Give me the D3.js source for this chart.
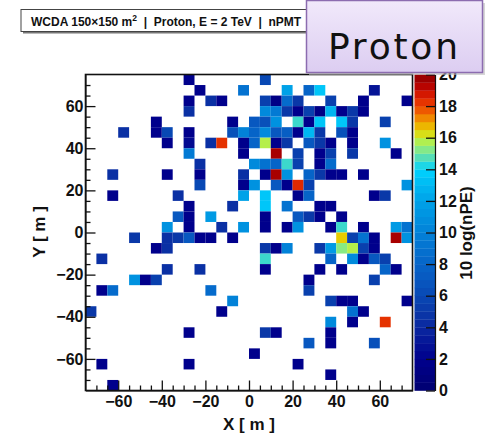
<!DOCTYPE html>
<html>
<head>
<meta charset="utf-8">
<script src="https://cdn.jsdelivr.net/npm/d3@7"></script>
<style>
  body { margin: 0; background: #fff; }
  svg { display: block; font-family: "Liberation Sans", Arial, sans-serif; }
</style>
</head>
<body>
<div class="graph-container"></div>
<script>
// detector cells hit: [x (m), y (m), 10 log(nPE)]
const hits = [
  // y = 72.5
  [-27.5, 72.5, 2], [7.5, 72.5, 6],
  // y = 67.5
  [-22.5, 67.5, 2], [-2.5, 67.5, 9], [17.5, 67.5, 12], [27.5, 67.5, 8], [32.5, 67.5, 13.5], [57.5, 67.5, 3],
  // y = 62.5
  [-27.5, 62.5, 2], [-17.5, 62.5, 4.5], [-12.5, 62.5, 2], [7.5, 62.5, 5.5], [12.5, 62.5, 1.5], [17.5, 62.5, 8.5],
  [22.5, 62.5, 5], [37.5, 62.5, 5.5], [52.5, 62.5, 2], [72.5, 62.5, 2],
  // y = 57.5
  [-27.5, 57.5, 4.5], [7.5, 57.5, 10.5], [12.5, 57.5, 9.5], [17.5, 57.5, 5], [22.5, 57.5, 2], [27.5, 57.5, 5.5],
  [32.5, 57.5, 1.5], [37.5, 57.5, 12.8], [42.5, 57.5, 2], [47.5, 57.5, 5], [52.5, 57.5, 2],
  // y = 52.5
  [-42.5, 52.5, 2], [-7.5, 52.5, 2], [2.5, 52.5, 7], [7.5, 52.5, 6.5], [12.5, 52.5, 11], [22.5, 52.5, 14.5],
  [27.5, 52.5, 2], [32.5, 52.5, 13.5], [42.5, 52.5, 13.5], [47.5, 52.5, 5], [62.5, 52.5, 5.5],
  // y = 47.5
  [-57.5, 47.5, 4.5], [-42.5, 47.5, 2], [-37.5, 47.5, 6], [-27.5, 47.5, 2], [-7.5, 47.5, 6.5], [-2.5, 47.5, 10],
  [2.5, 47.5, 8], [7.5, 47.5, 10.5], [12.5, 47.5, 7], [17.5, 47.5, 7.5], [22.5, 47.5, 2], [27.5, 47.5, 13],
  [32.5, 47.5, 5], [42.5, 47.5, 6.5], [47.5, 47.5, 2],
  // y = 42.5
  [-37.5, 42.5, 2], [-27.5, 42.5, 2.5], [-17.5, 42.5, 4.5], [-12.5, 42.5, 18.3], [-2.5, 42.5, 2], [2.5, 42.5, 8],
  [7.5, 42.5, 15.8], [12.5, 42.5, 2], [17.5, 42.5, 5], [27.5, 42.5, 7], [32.5, 42.5, 5], [37.5, 42.5, 2],
  [47.5, 42.5, 2], [62.5, 42.5, 11],
  // y = 37.5
  [-27.5, 37.5, 9.5], [-2.5, 37.5, 2], [12.5, 37.5, 19.5], [22.5, 37.5, 5.5], [32.5, 37.5, 2], [37.5, 37.5, 5.5],
  [47.5, 37.5, 5], [67.5, 37.5, 2],
  // y = 32.5
  [-22.5, 32.5, 4.5], [2.5, 32.5, 10.5], [7.5, 32.5, 9], [12.5, 32.5, 8], [17.5, 32.5, 14.5], [22.5, 32.5, 5.5],
  [32.5, 32.5, 2], [37.5, 32.5, 8.5],
  // y = 27.5
  [-62.5, 27.5, 4.5], [-37.5, 27.5, 2], [-22.5, 27.5, 2], [-2.5, 27.5, 4.5], [7.5, 27.5, 2], [12.5, 27.5, 19.5],
  [17.5, 27.5, 11], [27.5, 27.5, 8], [32.5, 27.5, 5], [37.5, 27.5, 2], [42.5, 27.5, 2], [52.5, 27.5, 2],
  // y = 22.5
  [-22.5, 22.5, 6], [-2.5, 22.5, 2], [2.5, 22.5, 11], [12.5, 22.5, 7], [17.5, 22.5, 2], [22.5, 22.5, 18.5],
  [27.5, 22.5, 5.5], [72.5, 22.5, 11],
  // y = 17.5
  [-62.5, 17.5, 2], [-32.5, 17.5, 4.5], [-2.5, 17.5, 12], [7.5, 17.5, 13.5], [22.5, 17.5, 2], [27.5, 17.5, 8],
  [57.5, 17.5, 2], [62.5, 17.5, 5],
  // y = 12.5
  [-27.5, 12.5, 2], [-7.5, 12.5, 4.5], [7.5, 12.5, 13.5], [17.5, 12.5, 9], [32.5, 12.5, 2], [37.5, 12.5, 2],
  // y = 7.5
  [-32.5, 7.5, 7], [-27.5, 7.5, 2], [-17.5, 7.5, 11.5], [7.5, 7.5, 2], [22.5, 7.5, 7], [27.5, 7.5, 5],
  [32.5, 7.5, 2], [42.5, 7.5, 2],
  // y = 2.5
  [-37.5, 2.5, 11], [-27.5, 2.5, 2], [-12.5, 2.5, 4.5], [-2.5, 2.5, 11], [7.5, 2.5, 2], [17.5, 2.5, 2],
  [22.5, 2.5, 11], [37.5, 2.5, 2], [42.5, 2.5, 14.5], [52.5, 2.5, 2], [67.5, 2.5, 11.5], [72.5, 2.5, 9],
  // y = -2.5
  [-52.5, -2.5, 5], [-37.5, -2.5, 4.5], [-32.5, -2.5, 5], [-27.5, -2.5, 7], [-22.5, -2.5, 2], [-17.5, -2.5, 2],
  [-7.5, -2.5, 2], [42.5, -2.5, 16.5], [47.5, -2.5, 5.5], [52.5, -2.5, 9], [57.5, -2.5, 2], [67.5, -2.5, 19.5],
  [72.5, -2.5, 11],
  // y = -7.5
  [-42.5, -7.5, 2], [-37.5, -7.5, 4.5], [7.5, -7.5, 5], [12.5, -7.5, 2], [17.5, -7.5, 10], [32.5, -7.5, 5],
  [37.5, -7.5, 11.5], [42.5, -7.5, 15.3], [47.5, -7.5, 15.8], [52.5, -7.5, 5.5], [57.5, -7.5, 2],
  // y = -12.5
  [-67.5, -12.5, 4.5], [7.5, -12.5, 14.5], [37.5, -12.5, 8], [47.5, -12.5, 10.5], [52.5, -12.5, 2],
  [57.5, -12.5, 7], [62.5, -12.5, 5.5],
  // y = -17.5
  [-37.5, -17.5, 4.5], [-22.5, -17.5, 4.5], [7.5, -17.5, 2], [32.5, -17.5, 2], [42.5, -17.5, 2],
  [62.5, -17.5, 8], [67.5, -17.5, 2],
  // y = -22.5
  [-52.5, -22.5, 11], [-47.5, -22.5, 2], [-42.5, -22.5, 5.5], [27.5, -22.5, 2], [57.5, -22.5, 5.5],
  // y = -27.5
  [-67.5, -27.5, 2], [-62.5, -27.5, 8.5], [-17.5, -27.5, 8.5], [27.5, -27.5, 5.5],
  // y = -32.5
  [-7.5, -32.5, 10], [37.5, -32.5, 5.5], [42.5, -32.5, 2], [47.5, -32.5, 2], [72.5, -32.5, 2],
  // y = -37.5
  [-72.5, -37.5, 5], [-12.5, -37.5, 2], [47.5, -37.5, 9], [52.5, -37.5, 2],
  // y = -42.5
  [37.5, -42.5, 10.5], [47.5, -42.5, 2], [62.5, -42.5, 18.3],
  // y = -47.5
  [-27.5, -47.5, 2], [7.5, -47.5, 5], [12.5, -47.5, 2], [37.5, -47.5, 2],
  // y = -52.5
  [27.5, -52.5, 7], [37.5, -52.5, 2], [57.5, -52.5, 6.5],
  // y = -57.5
  [2.5, -57.5, 2],
  // y = -62.5
  [-67.5, -62.5, 2], [-27.5, -62.5, 2], [22.5, -62.5, 2],
  // y = -67.5
  [37.5, -67.5, 2],
  // y = -72.5
  [-62.5, -72.5, 2]
];

const cellSize = 5;
const axisRange = [-75, 75];
const xTicks = [-60, -40, -20, 0, 20, 40, 60];
const yTicks = [-60, -40, -20, 0, 20, 40, 60];
const zTicks = [0, 2, 4, 6, 8, 10, 12, 14, 16, 18, 20];
const zRange = [0, 20];

// palette stops
const paletteStops = [0, 2, 4, 5, 6, 7, 8, 9, 10, 11, 12, 13, 14, 14.5, 15, 15.5, 16, 16.5, 17, 17.5, 18, 18.5, 19, 19.5, 20];
const paletteColors = ["#000070", "#00008c", "#0a28a0", "#0a38a8", "#0848b4", "#0858c0", "#0664c8", "#0472d0",
  "#0282d8", "#0092e0", "#00a2e8", "#00b8f2", "#00d4ff", "#3cd8cc", "#70e4a0", "#98ee70", "#c8f030", "#e8cc00",
  "#f0a000", "#f07000", "#ec4000", "#e02800", "#c80800", "#a80000", "#900000"];

const svgWidth = 485;
const svgHeight = 438;
const plot = { left: 85.5, right: 412.5, top: 74.5, bottom: 390.5 };
const bar = { left: 414.5, right: 435 };

const svg = d3.select(".graph-container")
    .append("svg")
    .attr("width", svgWidth)
    .attr("height", svgHeight);

const xScale = d3.scaleLinear().domain(axisRange).range([plot.left, plot.right]);
const yScale = d3.scaleLinear().domain(axisRange).range([plot.bottom, plot.top]);
const zScale = d3.scaleLinear().domain(zRange).range([plot.bottom, plot.top]);
const color = d3.scaleLinear().domain(paletteStops).range(paletteColors).clamp(true);

// cells
svg.append("g")
    .selectAll("rect")
    .data(hits)
    .enter()
    .append("rect")
    .attr("x", d => xScale(d[0] - cellSize / 2))
    .attr("y", d => yScale(d[1] + cellSize / 2))
    .attr("width", d => xScale(d[0] + cellSize / 2) - xScale(d[0] - cellSize / 2))
    .attr("height", d => yScale(d[1] - cellSize / 2) - yScale(d[1] + cellSize / 2))
    .style("fill", d => color(d[2]));

// minor ticks every 5 m
const minorTicks = d3.range(axisRange[0] + cellSize, axisRange[1], cellSize).filter(v => !xTicks.includes(v));

const xAxis = d3.axisBottom(xScale).tickValues(xTicks).tickSizeInner(-10).tickSizeOuter(0).tickPadding(5).tickFormat(d3.format("d"));
svg.append("g")
    .attr("transform", `translate(0,${plot.bottom})`)
    .call(xAxis);
svg.append("g")
    .attr("transform", `translate(0,${plot.bottom})`)
    .call(d3.axisBottom(xScale).tickValues(minorTicks).tickSizeInner(-5).tickSizeOuter(0).tickFormat(""))
    .select(".domain").remove();

const yAxis = d3.axisLeft(yScale).tickValues(yTicks).tickSizeInner(-10).tickSizeOuter(0).tickPadding(2).tickFormat(d3.format("d"));
svg.append("g")
    .attr("transform", `translate(${plot.left},0)`)
    .call(yAxis);
svg.append("g")
    .attr("transform", `translate(${plot.left},0)`)
    .call(d3.axisLeft(yScale).tickValues(minorTicks).tickSizeInner(-5).tickSizeOuter(0).tickFormat(""))
    .select(".domain").remove();

svg.selectAll(".tick text")
    .style("font-size", "16px")
    .style("font-weight", "bold")
    .style("fill", "#111");
svg.selectAll(".tick line").attr("stroke", "#111").attr("stroke-width", 1.3);

// frame
svg.append("rect")
    .attr("x", plot.left)
    .attr("y", plot.top)
    .attr("width", plot.right - plot.left)
    .attr("height", plot.bottom - plot.top)
    .style("fill", "none")
    .style("stroke", "#111")
    .style("stroke-width", 1.6);

// colour bar
const bandStep = 0.5;
svg.append("g")
    .selectAll("rect")
    .data(d3.range(zRange[0], zRange[1], bandStep))
    .enter()
    .append("rect")
    .attr("x", bar.left)
    .attr("y", d => zScale(d + bandStep))
    .attr("width", bar.right - bar.left)
    .attr("height", d => zScale(d) - zScale(d + bandStep) + 0.3)
    .style("fill", d => color(d + bandStep / 2));

const zAxis = d3.axisRight(zScale).tickValues(zTicks).tickSizeInner(-9).tickSizeOuter(0).tickPadding(4);
const zAxisG = svg.append("g")
    .attr("transform", `translate(${bar.right},0)`)
    .call(zAxis);
zAxisG.selectAll(".tick text")
    .style("font-size", "16px")
    .style("font-weight", "bold")
    .style("fill", "#111");
zAxisG.selectAll(".tick line").attr("stroke", "#111").attr("stroke-width", 1.3);
zAxisG.select(".domain").attr("stroke", "#111").attr("stroke-width", 1.2);

// axis titles
svg.append("text")
    .attr("x", (plot.left + plot.right) / 2)
    .attr("y", 430)
    .style("text-anchor", "middle")
    .style("font-size", "17px")
    .style("font-weight", "bold")
    .style("fill", "#111")
    .style("white-space", "pre")
    .text("X [ m ]");

svg.append("text")
    .attr("transform", "rotate(-90)")
    .attr("x", -232)
    .attr("y", 45)
    .style("text-anchor", "middle")
    .style("font-size", "17px")
    .style("font-weight", "bold")
    .style("fill", "#111")
    .style("white-space", "pre")
    .text("Y [ m ]");

svg.append("text")
    .attr("transform", "rotate(-90)")
    .attr("x", -233)
    .attr("y", 472)
    .style("text-anchor", "middle")
    .style("font-size", "17px")
    .style("font-weight", "bold")
    .style("fill", "#111")
    .text("10 log(nPE)");

// header box
svg.append("rect")
    .attr("x", 23).attr("y", 11.5)
    .attr("width", 300).attr("height", 22)
    .style("fill", "#777");
svg.append("rect")
    .attr("x", 21).attr("y", 9.5)
    .attr("width", 300).attr("height", 22)
    .style("fill", "#fff")
    .style("stroke", "#444")
    .style("stroke-width", 1);
const header = svg.append("text")
    .attr("x", 31)
    .attr("y", 25.5)
    .style("font-size", "12px")
    .style("font-weight", "bold")
    .style("fill", "#111")
    .style("white-space", "pre");
header.append("tspan").text("WCDA 150\u00d7150 m");
header.append("tspan").attr("dy", -4.5).style("font-size", "8.5px").text("2");
header.append("tspan").attr("dy", 4.5).text("  |  Proton, E = 2 TeV  |  nPMT");

// Proton label
const defs = svg.append("defs");
const grad = defs.append("linearGradient").attr("id", "lav").attr("x1", 0).attr("y1", 0).attr("x2", 0).attr("y2", 1);
grad.append("stop").attr("offset", "0%").attr("stop-color", "#f1e9fb");
grad.append("stop").attr("offset", "100%").attr("stop-color", "#dccdf1");

svg.append("rect")
    .attr("x", 309).attr("y", 3)
    .attr("width", 177).attr("height", 72)
    .style("fill", "#bbb")
    .style("opacity", 0.6);
svg.append("rect")
    .attr("x", 306.5).attr("y", 0.5)
    .attr("width", 176).attr("height", 72)
    .style("fill", "url(#lav)")
    .style("stroke", "#8c6cb0")
    .style("stroke-width", 1.5);
svg.append("text")
    .attr("x", 393)
    .attr("y", 59)
    .style("text-anchor", "middle")
    .style("font-family", "'Comic Sans MS', 'DejaVu Sans', sans-serif")
    .style("font-size", "36px")
    .style("fill", "#111")
    .attr("textLength", 130)
    .attr("lengthAdjust", "spacing")
    .text("Proton");
</script>
</body>
</html>
